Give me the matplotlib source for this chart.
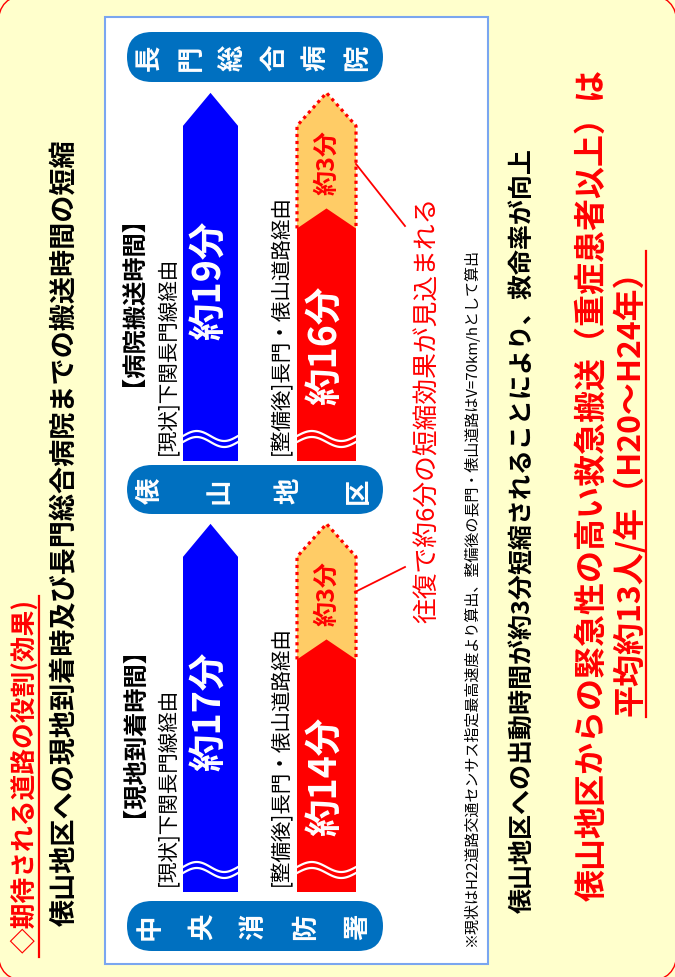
import numpy as np
import matplotlib.pyplot as plt
from matplotlib.patches import FancyBboxPatch, Polygon, Rectangle

plt.rcParams['font.family'] = ['Noto Sans CJK JP', 'DejaVu Sans']

# ---- データ ----
panel_titles = ['【現地到着時間】', '【病院搬送時間】']
route_now = '[現状]下関長門線経由'
route_new = '[整備後]長門・俵山道路経由'
time_now = [17, 19]      # 現状 (分)
time_new = [14, 16]      # 整備後 (分)
time_saved = [3, 3]      # 短縮 (分)
places = ['中央消防署', '俵山地区', '長門総合病院']

title = '◇期待される道路の役割(効果)'
subtitle = '俵山地区への現地到着時及び長門総合病院までの搬送時間の短縮'
effect = '往復で約6分の短縮効果が見込まれる'
note = '※現状はH22道路交通センサス指定最高速度より算出、整備後の長門・俵山道路はV=70km/hとして算出'
concl1 = '俵山地区への出動時間が約3分短縮されることにより、救命率が向上'
concl2 = '俵山地区からの緊急性の高い救急搬送（重症患者以上）は'
concl3 = '平均約13人/年（H20～H24年）'

# ---- 色 ----
YELLOW = '#FFFFCC'
BLUE = '#0000FF'
RED = '#FF0000'
ORANGE = '#FFCC66'
PILL = '#0070C0'

W, H = 675, 978
PX_PER_MIN = 34.2
VISIBLE = 9.8          # 波線より上に見えている分数
bases = [893, 462]     # 各パネルの矢印の根元 (px)

fig = plt.figure(figsize=(W / 100, H / 100), dpi=100)
fig.patch.set_facecolor(YELLOW)

# 背景
bg = fig.add_axes([0, 0, 1, 1])
bg.set_xlim(0, W)
bg.set_ylim(H, 0)
bg.axis('off')
bg.add_patch(FancyBboxPatch((-2, -4), W + 4, H + 8, boxstyle='round,pad=0,rounding_size=30',
                            fc=YELLOW, ec=RED, lw=1))
bg.add_patch(Rectangle((105, 18), 383, 947, fc='white', ec='#7AA6F0', lw=1.5))

pill_spans = [(902, 952), (466, 515), (33, 83)]
for name, (y0, y1) in zip(places, pill_spans):
    bg.add_patch(FancyBboxPatch((127, y0), 256, y1 - y0,
                                boxstyle='round,pad=0,rounding_size=25', fc=PILL, ec='none'))
    xs = np.linspace(150, 358, len(name))
    for ch, x in zip(name, xs):
        bg.text(x, (y0 + y1) / 2, ch, rotation=90, ha='center', va='center',
                color='white', fontsize=19, fontweight='bold')


def pentagon(x0, x1, y0, y1, head):
    return [(x0, y0), (x1, y0), (x1, y1), ((x0 + x1) / 2, y1 + head), (x0, y1)]


# 矢印パネル (縦軸 = 分)
for i in range(2):
    base = bases[i]
    top = base - 420
    t0 = time_now[i] - VISIBLE
    ax = fig.add_axes([0, (H - base) / H, 1, (base - top) / H])
    ax.set_xlim(0, W)
    ax.set_ylim(t0, t0 + (base - top) / PX_PER_MIN)
    ax.axis('off')

    head_b = 33 / PX_PER_MIN
    head_r = 20 / PX_PER_MIN

    # 現状 (青)
    ax.add_patch(Polygon(pentagon(183, 238, t0, time_now[i], head_b), closed=True,
                         fc=BLUE, ec='none', zorder=3))
    # 短縮分 (オレンジ, 点線枠)
    t_end = time_new[i] + time_saved[i]
    ax.add_patch(Polygon(pentagon(297, 356, time_new[i] - 0.3, t_end, head_b), closed=True,
                         fc=ORANGE, ec='none', zorder=1))
    ox = [297, 297, 326.5, 356, 356]
    oy = [time_new[i], t_end, t_end + head_b, t_end, time_new[i]]
    ax.plot(ox, oy, color=RED, lw=2.3, ls=(0, (1, 1.2)), zorder=2, solid_capstyle='butt')
    # 整備後 (赤)
    ax.add_patch(Polygon(pentagon(297, 356, t0, time_new[i], head_r), closed=True,
                         fc=RED, ec='none', zorder=3))

    # 波線
    for x0, x1 in [(183, 238), (297, 356)]:
        xx = np.linspace(x0, x1, 60)
        u = (xx - x0) / (x1 - x0)
        for off in (19, 25):
            yy = t0 + (off + 5 * np.sin(2 * np.pi * u)) / PX_PER_MIN
            ax.plot(xx, yy, color='white', lw=1.6, zorder=4)

    # 数値ラベル
    ax.text(210, t0 + 5.3, f'約{time_now[i]}分', rotation=90, ha='center', va='center',
            color='white', fontsize=27, fontweight='bold', zorder=5)
    ax.text(326, t0 + 3.4, f'約{time_new[i]}分', rotation=90, ha='center', va='center',
            color='white', fontsize=27, fontweight='bold', zorder=5)
    ax.text(327, (time_new[i] + t_end) / 2 + 0.45, f'約{time_saved[i]}分', rotation=90,
            ha='center', va='center', color=RED, fontsize=18, fontweight='bold', zorder=5)

# 文字
tx = fig.add_axes([0, 0, 1, 1])
tx.set_xlim(0, W)
tx.set_ylim(H, 0)
tx.axis('off')

tx.text(25, 953, title, rotation=90, ha='center', va='bottom', color=RED,
        fontsize=18.5, fontweight='bold')
tx.plot([39, 39], [597, 958], color=RED, lw=1.6)
tx.text(65, 926, subtitle, rotation=90, ha='center', va='bottom', color='black',
        fontsize=19.5, fontweight='bold')

for i, base in enumerate(bases):
    tx.text(122, base - 173, panel_titles[i], rotation=90, ha='center', va='center',
            fontsize=17.5, fontweight='bold', color='black')
    tx.text(167, base - 7, route_now, rotation=90, ha='center', va='bottom',
            fontsize=14.8, color='black')
    tx.text(281, base - 7, route_new, rotation=90, ha='center', va='bottom',
            fontsize=14.8, color='black')

tx.plot([356, 405], [165, 227], color=RED, lw=1.3)
tx.plot([355, 405], [593, 568], color=RED, lw=1.3)
tx.text(428, 410, effect, rotation=90, ha='center', va='center', color=RED, fontsize=18.5)
tx.text(471, 946, note, rotation=90, ha='center', va='bottom', color='black', fontsize=10.8)

tx.text(523, 913, concl1, rotation=90, ha='center', va='bottom', color='black',
        fontsize=18, fontweight='bold')
tx.text(592, 485, concl2, rotation=90, ha='center', va='center', color=RED,
        fontsize=23, fontweight='bold')
tx.text(630, 485, concl3, rotation=90, ha='center', va='center', color=RED,
        fontsize=23, fontweight='bold')
tx.plot([646, 646], [252, 718], color=RED, lw=1.6)

fig.savefig('out.png', dpi=100, facecolor=YELLOW)
